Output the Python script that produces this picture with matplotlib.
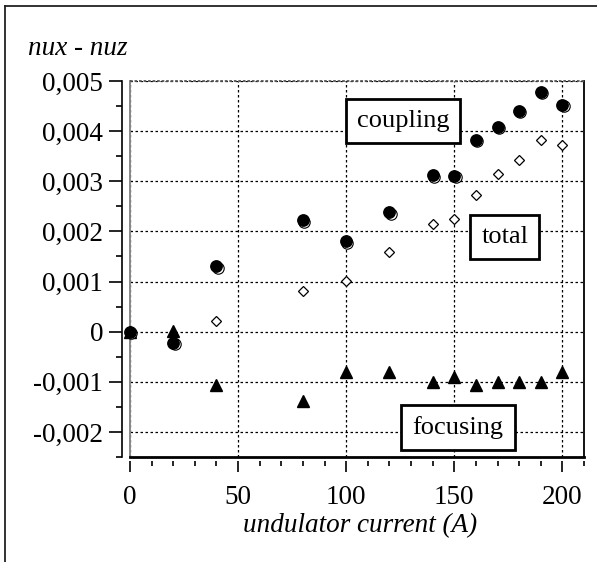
import matplotlib
matplotlib.use("Agg")
import matplotlib.pyplot as plt
import matplotlib.transforms as mtransforms
from matplotlib.ticker import MultipleLocator, FuncFormatter
from matplotlib.lines import Line2D

plt.rcParams['font.family'] = ['Liberation Serif', 'DejaVu Serif']

# undulator current (A)
current = [0, 20, 40, 80, 100, 120, 140, 150, 160, 170, 180, 190, 200]
coupling = [0.0, -0.00022, 0.0013, 0.00222, 0.0018, 0.00238, 0.00312, 0.00311,
            0.00383, 0.00408, 0.0044, 0.00478, 0.00452]
focusing = [0.0, 0.00002, -0.00106, -0.00138, -0.0008, -0.0008, -0.00101, -0.0009,
            -0.00106, -0.00101, -0.00101, -0.00101, -0.0008]
total_current = [0, 40, 80, 100, 120, 140, 150, 160, 170, 180, 190, 200]
total = [0.0, 0.00022, 0.00081, 0.00101, 0.00159, 0.00215, 0.00225, 0.00273,
         0.00315, 0.00342, 0.00383, 0.00373]

W, H = 597, 562
fig = plt.figure(figsize=(W / 100, H / 100), dpi=100)
ax = fig.add_axes([130 / W, 1 - 457 / H, 454 / W, 376 / H])
ax.set_xlim(0, 210)
ax.set_ylim(-0.0025, 0.005)

# grid
ax.xaxis.set_major_locator(MultipleLocator(50))
ax.xaxis.set_minor_locator(MultipleLocator(10))
ax.yaxis.set_major_locator(MultipleLocator(0.001))
ax.yaxis.set_minor_locator(MultipleLocator(0.0005))
ax.grid(True, which='major', color='black', linestyle=(0, (2, 2)), linewidth=0.9)
ax.set_axisbelow(True)

# spines: offset y axis line, x ticks only
ax.spines['left'].set_position(('outward', 5.8))
ax.spines['left'].set_linewidth(1.2)
ax.spines['bottom'].set_position(('outward', 3.2))
ax.spines['bottom'].set_visible(False)
ax.spines['top'].set_visible(False)
ax.spines['right'].set_visible(False)

# plot frame
ax.add_line(Line2D([0, 0], [0, 1], transform=ax.transAxes, color='#888888', lw=1.4, clip_on=False))
ax.add_line(Line2D([0, 1], [0, 0], transform=ax.transAxes, color='black', lw=2.0, clip_on=False))
ax.add_line(Line2D([1, 1], [0, 1], transform=ax.transAxes, color='black', lw=1.3, clip_on=False))
ax.add_line(Line2D([0, 1], [1, 1], transform=ax.transAxes, color='#555555', lw=1.3,
                   linestyle=(0, (1.5, 1)), clip_on=False))

ax.tick_params(axis='both', which='both', direction='out', width=1.2, labelsize=19.5)
ax.tick_params(axis='y', which='major', length=9.5, pad=4)
ax.tick_params(axis='y', which='minor', length=4.5)
ax.tick_params(axis='x', which='major', length=8, pad=9)
ax.tick_params(axis='x', which='minor', length=3.5)

def comma_fmt(v, pos):
    if abs(v) < 1e-12:
        return "0"
    return f"{v:.3f}".replace(".", ",")

ax.yaxis.set_major_formatter(FuncFormatter(comma_fmt))

# markers
shadow = mtransforms.offset_copy(ax.transData, fig=fig, x=1.3, y=-1.3, units='dots')
ax.plot(total_current, total, linestyle='none', marker='D', markersize=5.5,
        markerfacecolor='white', markeredgecolor='black', markeredgewidth=0.9,
        clip_on=False, zorder=3)
ax.plot(current, focusing, linestyle='none', marker='^', markersize=8,
        color='black', clip_on=False, zorder=4)
ax.plot(current, coupling, linestyle='none', marker='o', markersize=8.2,
        markerfacecolor='white', markeredgecolor='black', markeredgewidth=0.8,
        transform=shadow, clip_on=False, zorder=5)
ax.plot(current, coupling, linestyle='none', marker='o', markersize=8.2,
        color='black', clip_on=False, zorder=6)

box = dict(boxstyle='square,pad=0.42', facecolor='white', edgecolor='black', linewidth=2)
ax.text(126.3, 0.00421, "coupling", fontsize=19, ha='center', va='center', bbox=box, zorder=7)
ax.text(173.4, 0.00188, "total", fontsize=19, ha='center', va='center', bbox=box, zorder=7)
ax.text(151.7, -0.00192, "focusing", fontsize=19, ha='center', va='center', bbox=box, zorder=7)

# axis titles
fig.text(28 / W, 1 - 55 / H, "nux - nuz", fontsize=19.5, style='italic', ha='left', va='baseline')
fig.text(360 / W, 1 - 526 / H, "undulator current (A)", fontsize=19.5, style='italic',
         ha='center', va='center')

# outer frame (top and left)
fig.add_artist(Line2D([5 / W, 1], [1 - 6 / H, 1 - 6 / H], transform=fig.transFigure, color='#222222', lw=1.3))
fig.add_artist(Line2D([5 / W, 5 / W], [0, 1 - 6 / H], transform=fig.transFigure, color='#222222', lw=1.3))

fig.savefig("out.png", dpi=100)
